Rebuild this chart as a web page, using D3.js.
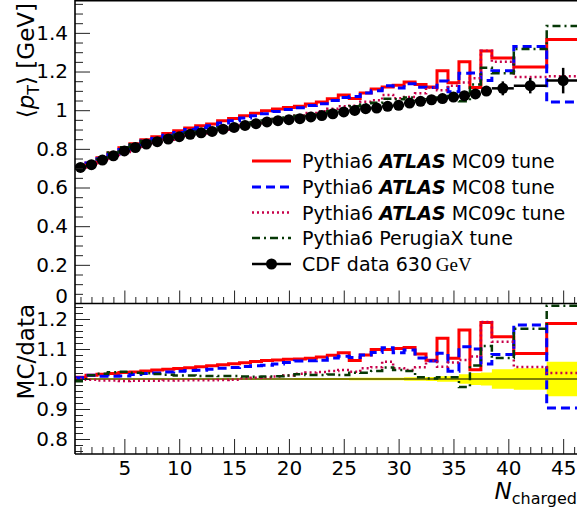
<!DOCTYPE html>
<html>
<head>
<meta charset="utf-8">
<script src="https://cdn.jsdelivr.net/npm/d3@7"></script>
<style>
  html, body { margin: 0; padding: 0; background: #fff; }
  svg { display: block; }
  text { font-family: "DejaVu Sans", Verdana, sans-serif; fill: #000; }
</style>
</head>
<body>
<svg id="chart" width="577" height="513"></svg>
<script>
// Bin edges in charged multiplicity (unit bins up to 38.5, then wider bins)
const binEdges = [0.5, 1.5, 2.5, 3.5, 4.5, 5.5, 6.5, 7.5, 8.5, 9.5, 10.5, 11.5, 12.5, 13.5,
  14.5, 15.5, 16.5, 17.5, 18.5, 19.5, 20.5, 21.5, 22.5, 23.5, 24.5, 25.5, 26.5, 27.5, 28.5,
  29.5, 30.5, 31.5, 32.5, 33.5, 34.5, 35.5, 36.5, 37.5, 38.5, 40.5, 43.5, 46.5];
const binCenters = [1, 2, 3, 4, 5, 6, 7, 8, 9, 10, 11, 12, 13, 14, 15, 16, 17, 18, 19, 20,
  21, 22, 23, 24, 25, 26, 27, 28, 29, 30, 31, 32, 33, 34, 35, 36, 37, 38, 39.5, 42, 45];

// CDF 630 GeV mean pT [GeV] and its uncertainty
const cdfData = [0.704, 0.718, 0.742, 0.764, 0.789, 0.807, 0.825, 0.837, 0.851, 0.863,
  0.875, 0.883, 0.890, 0.902, 0.911, 0.921, 0.930, 0.939, 0.946, 0.951,
  0.956, 0.965, 0.972, 0.981, 0.991, 0.999, 1.008, 1.011, 1.020, 1.025,
  1.037, 1.046, 1.054, 1.060, 1.068, 1.075, 1.084, 1.099, 1.113, 1.127, 1.153];
const cdfErr = [0.002, 0.002, 0.002, 0.002, 0.002, 0.002, 0.002, 0.002, 0.002, 0.002,
  0.002, 0.002, 0.002, 0.002, 0.002, 0.002, 0.002, 0.002, 0.002, 0.002,
  0.003, 0.003, 0.003, 0.003, 0.003, 0.004, 0.004, 0.004, 0.004, 0.004,
  0.006, 0.006, 0.007, 0.010, 0.010, 0.017, 0.022, 0.024, 0.036, 0.040, 0.066];

// Pythia6 predictions, mean pT [GeV] per bin
const mc09 = [0.708, 0.727, 0.754, 0.778, 0.806, 0.826, 0.847, 0.862, 0.879, 0.893,
  0.908, 0.919, 0.929, 0.945, 0.957, 0.971, 0.984, 0.997, 1.006, 1.014,
  1.020, 1.032, 1.043, 1.059, 1.078, 1.061, 1.089, 1.110, 1.120, 1.129,
  1.146, 1.133, 1.120, 1.204, 1.142, 1.251, 1.117, 1.306, 1.270, 1.223, 1.366];
const mc08 = [0.707, 0.727, 0.749, 0.771, 0.797, 0.819, 0.840, 0.854, 0.871, 0.885,
  0.900, 0.909, 0.919, 0.934, 0.946, 0.959, 0.971, 0.982, 0.993, 1.003,
  1.013, 1.024, 1.033, 1.050, 1.066, 1.071, 1.089, 1.100, 1.126, 1.115,
  1.137, 1.119, 1.117, 1.151, 1.096, 1.191, 1.192, 1.154, 1.204, 1.330, 1.042];
const mc09c = [0.704, 0.716, 0.738, 0.760, 0.784, 0.802, 0.820, 0.832, 0.847, 0.859,
  0.871, 0.879, 0.886, 0.899, 0.909, 0.923, 0.934, 0.944, 0.954, 0.962,
  0.973, 0.986, 0.995, 1.007, 1.021, 1.023, 1.044, 1.051, 1.079, 1.062,
  1.068, 1.087, 1.118, 1.103, 1.127, 1.143, 1.165, 1.308, 1.251, 1.172, 1.176];
const perugiaX = [0.699, 0.727, 0.755, 0.781, 0.808, 0.824, 0.841, 0.851, 0.863, 0.873,
  0.885, 0.892, 0.899, 0.911, 0.920, 0.929, 0.937, 0.947, 0.955, 0.962,
  0.971, 0.978, 0.985, 0.996, 1.004, 1.020, 1.029, 1.038, 1.059, 1.056,
  1.065, 1.052, 1.056, 1.066, 1.074, 1.046, 1.133, 1.220, 1.191, 1.316, 1.435];

// Axis ticks
const topMajor = [0, 0.2, 0.4, 0.6, 0.8, 1.0, 1.2, 1.4];
const topLabels = ["0", "0.2", "0.4", "0.6", "0.8", "1", "1.2", "1.4"];
const ratioMajor = [0.8, 0.9, 1.0, 1.1, 1.2];
const ratioLabels = ["0.8", "0.9", "1.0", "1.1", "1.2"];
const xMajor = [5, 10, 15, 20, 25, 30, 35, 40, 45];
const xLabels = ["5", "10", "15", "20", "25", "30", "35", "40", "45"];

const series = [
  { name: "MC09", values: mc09, color: "#ff0000", dash: null, width: 3 },
  { name: "MC08", values: mc08, color: "#0000ff", dash: "9,5", width: 3 },
  { name: "MC09c", values: mc09c, color: "#c8004a", dash: "2,3", width: 2.5 },
  { name: "PerugiaX", values: perugiaX, color: "#063806", dash: "8,4,2,4", width: 2.5 }
];

const FONT = "DejaVu Sans, Verdana, sans-serif";
const TICK_FS = 20;

const svg = d3.select("#chart");
svg.append("rect").attr("width", 577).attr("height", 513).attr("fill", "#fff");

const x = d3.scaleLinear().domain([0.5, 46.5]).range([75, 75 + 46 * 10.97]);
const yTop = d3.scaleLinear().domain([0, 1.57]).range([303.5, 0]);
const yRat = d3.scaleLinear().domain([0.75, 1.25]).range([454, 304]);

const defs = svg.append("defs");
defs.append("clipPath").attr("id", "clipTop").append("rect")
  .attr("x", 75).attr("y", 0).attr("width", 510).attr("height", 303.5);
defs.append("clipPath").attr("id", "clipRat").append("rect")
  .attr("x", 75).attr("y", 304).attr("width", 510).attr("height", 150);

// step path through the bin edges
function stepPath(values, yScale) {
  const pts = values.map((v, i) => [binEdges[i], v]);
  pts.push([binEdges[binEdges.length - 1], values[values.length - 1]]);
  return d3.line().x(d => x(d[0])).y(d => yScale(d[1])).curve(d3.curveStepAfter)(pts);
}

/* ---------------- upper panel ---------------- */
const upper = svg.append("g").attr("clip-path", "url(#clipTop)");
series.forEach(s => {
  upper.append("path")
    .attr("d", stepPath(s.values, yTop))
    .attr("fill", "none")
    .attr("stroke", s.color)
    .attr("stroke-width", s.width)
    .attr("stroke-dasharray", s.dash);
});

const markers = upper.append("g");
binCenters.forEach((c, i) => {
  const v = cdfData[i], e = cdfErr[i];
  markers.append("line")
    .attr("x1", x(binEdges[i])).attr("x2", x(binEdges[i + 1]))
    .attr("y1", yTop(v)).attr("y2", yTop(v))
    .attr("stroke", "#000").attr("stroke-width", 2.5);
  markers.append("line")
    .attr("x1", x(c)).attr("x2", x(c))
    .attr("y1", yTop(v - e)).attr("y2", yTop(v + e))
    .attr("stroke", "#000").attr("stroke-width", 2.5);
});
binCenters.forEach((c, i) => {
  markers.append("circle").attr("cx", x(c)).attr("cy", yTop(cdfData[i])).attr("r", 5.5).attr("fill", "#000");
});

// upper axes
const topAxisMinor = d3.range(0, 1.56, 0.05).filter(v => Math.abs(v / 0.2 - Math.round(v / 0.2)) > 1e-6);
svg.append("g").attr("transform", "translate(75,0)")
  .call(d3.axisLeft(yTop).tickValues(topAxisMinor).tickSize(-8).tickFormat(""))
  .call(g => g.select(".domain").remove());
const topAx = svg.append("g").attr("transform", "translate(75,0)")
  .call(d3.axisLeft(yTop).tickValues(topMajor).tickSize(-15).tickPadding(7)
    .tickFormat((d, i) => topLabels[i]))
  .call(g => g.select(".domain").remove());
topAx.selectAll("text").attr("font-size", TICK_FS).attr("font-family", FONT);
topAx.selectAll(".tick").filter(d => d === 0).select("text").attr("dy", "-0.05em");

const xMinor = d3.range(1, 47).filter(v => v % 5 !== 0);
svg.append("g").attr("transform", "translate(0,303.5)")
  .call(d3.axisBottom(x).tickValues(xMinor).tickSize(-6.5).tickFormat(""))
  .call(g => g.select(".domain").remove());
svg.append("g").attr("transform", "translate(0,303.5)")
  .call(d3.axisBottom(x).tickValues(xMajor).tickSize(-13).tickFormat(""))
  .call(g => g.select(".domain").remove());

/* ---------------- ratio panel ---------------- */
svg.append("rect").attr("x", 0).attr("y", 304).attr("width", 577).attr("height", 209).attr("fill", "#fff");
const rat = svg.append("g").attr("clip-path", "url(#clipRat)");

const relErr = cdfErr.map((e, i) => e / cdfData[i]);
const bandPts = relErr.map((r, i) => [binEdges[i], r]);
bandPts.push([binEdges[binEdges.length - 1], relErr[relErr.length - 1]]);
rat.append("path")
  .attr("d", d3.area().x(d => x(d[0])).y0(d => yRat(1 - d[1])).y1(d => yRat(1 + d[1]))
    .curve(d3.curveStepAfter)(bandPts))
  .attr("fill", "#ffff00");
rat.append("line")
  .attr("x1", 75).attr("x2", 577).attr("y1", yRat(1)).attr("y2", yRat(1))
  .attr("stroke", "#000").attr("stroke-width", 1);

series.forEach(s => {
  const ratio = s.values.map((v, i) => v / cdfData[i]);
  rat.append("path")
    .attr("d", stepPath(ratio, yRat))
    .attr("fill", "none")
    .attr("stroke", s.color)
    .attr("stroke-width", s.width)
    .attr("stroke-dasharray", s.dash);
});

const ratMinor = d3.range(0.76, 1.25, 0.02).filter(v => Math.abs(v * 10 - Math.round(v * 10)) > 1e-6);
svg.append("g").attr("transform", "translate(75,0)")
  .call(d3.axisLeft(yRat).tickValues(ratMinor).tickSize(-8).tickFormat(""))
  .call(g => g.select(".domain").remove());
const ratAx = svg.append("g").attr("transform", "translate(75,0)")
  .call(d3.axisLeft(yRat).tickValues(ratioMajor).tickSize(-15).tickPadding(7)
    .tickFormat((d, i) => ratioLabels[i]))
  .call(g => g.select(".domain").remove());
ratAx.selectAll("text").attr("font-size", TICK_FS).attr("font-family", FONT);

svg.append("g").attr("transform", "translate(0,454)")
  .call(d3.axisBottom(x).tickValues(xMinor).tickSize(-7).tickFormat(""))
  .call(g => g.select(".domain").remove());
const xAx = svg.append("g").attr("transform", "translate(0,454)")
  .call(d3.axisBottom(x).tickValues(xMajor).tickSize(-15).tickPadding(7)
    .tickFormat((d, i) => xLabels[i]))
  .call(g => g.select(".domain").remove());
xAx.selectAll("text").attr("font-size", TICK_FS).attr("font-family", FONT);

svg.selectAll(".tick line").attr("stroke", "#222").attr("stroke-width", 1);

// frame lines
const frame = svg.append("g").attr("stroke", "#000").attr("stroke-width", 1.6);
frame.append("line").attr("x1", 75).attr("x2", 577).attr("y1", 0.8).attr("y2", 0.8);
frame.append("line").attr("x1", 75).attr("x2", 75).attr("y1", 0).attr("y2", 454);
frame.append("line").attr("x1", 75).attr("x2", 577).attr("y1", 303.5).attr("y2", 303.5);
frame.append("line").attr("x1", 75).attr("x2", 577).attr("y1", 454).attr("y2", 454);

/* ---------------- titles ---------------- */
const yt = svg.append("text")
  .attr("transform", "translate(34,3) rotate(-90)")
  .attr("text-anchor", "end").attr("font-size", 23);
yt.append("tspan").text("\u27E8");
yt.append("tspan").attr("font-style", "italic").text("p");
yt.append("tspan").attr("font-size", 16).attr("dy", 5).text("T");
yt.append("tspan").attr("dy", -5).text("\u27E9 [GeV]");

svg.append("text")
  .attr("transform", "translate(34,304) rotate(-90)")
  .attr("text-anchor", "end").attr("font-size", 23)
  .text("MC/data");

const xt = svg.append("text").attr("x", 577).attr("y", 499)
  .attr("text-anchor", "end").attr("font-size", 23);
xt.append("tspan").attr("font-style", "italic").text("N");
xt.append("tspan").attr("font-size", 16).attr("dy", 5).text("charged");

/* ---------------- legend ---------------- */
const legendRowsY = [161, 187, 212.5, 238, 264];
const legend = svg.append("g");
series.forEach((s, i) => {
  legend.append("line")
    .attr("x1", 252).attr("x2", 291).attr("y1", legendRowsY[i]).attr("y2", legendRowsY[i])
    .attr("stroke", s.color).attr("stroke-width", s.width)
    .attr("stroke-dasharray", s.dash);
});
legend.append("line").attr("x1", 252).attr("x2", 291).attr("y1", legendRowsY[4]).attr("y2", legendRowsY[4])
  .attr("stroke", "#000").attr("stroke-width", 2.5);
legend.append("circle").attr("cx", 271.5).attr("cy", legendRowsY[4]).attr("r", 5.5).attr("fill", "#000");

const tuneNames = ["MC09 tune", "MC08 tune", "MC09c tune"];
tuneNames.forEach((t, i) => {
  const tx = legend.append("text").attr("x", 302).attr("y", legendRowsY[i] + 7).attr("font-size", 19);
  tx.append("tspan").text("Pythia6 ");
  tx.append("tspan").attr("font-weight", "bold").attr("font-style", "italic").text("ATLAS");
  tx.append("tspan").text(" " + t);
});
legend.append("text").attr("x", 302).attr("y", legendRowsY[3] + 7).attr("font-size", 19)
  .text("Pythia6 PerugiaX tune");
const cdfT = legend.append("text").attr("x", 302).attr("y", legendRowsY[4] + 7).attr("font-size", 19);
cdfT.append("tspan").text("CDF data 630\u2009");
cdfT.append("tspan").attr("font-family", "Liberation Serif, Times New Roman, serif").text("GeV");
</script>
</body>
</html>
